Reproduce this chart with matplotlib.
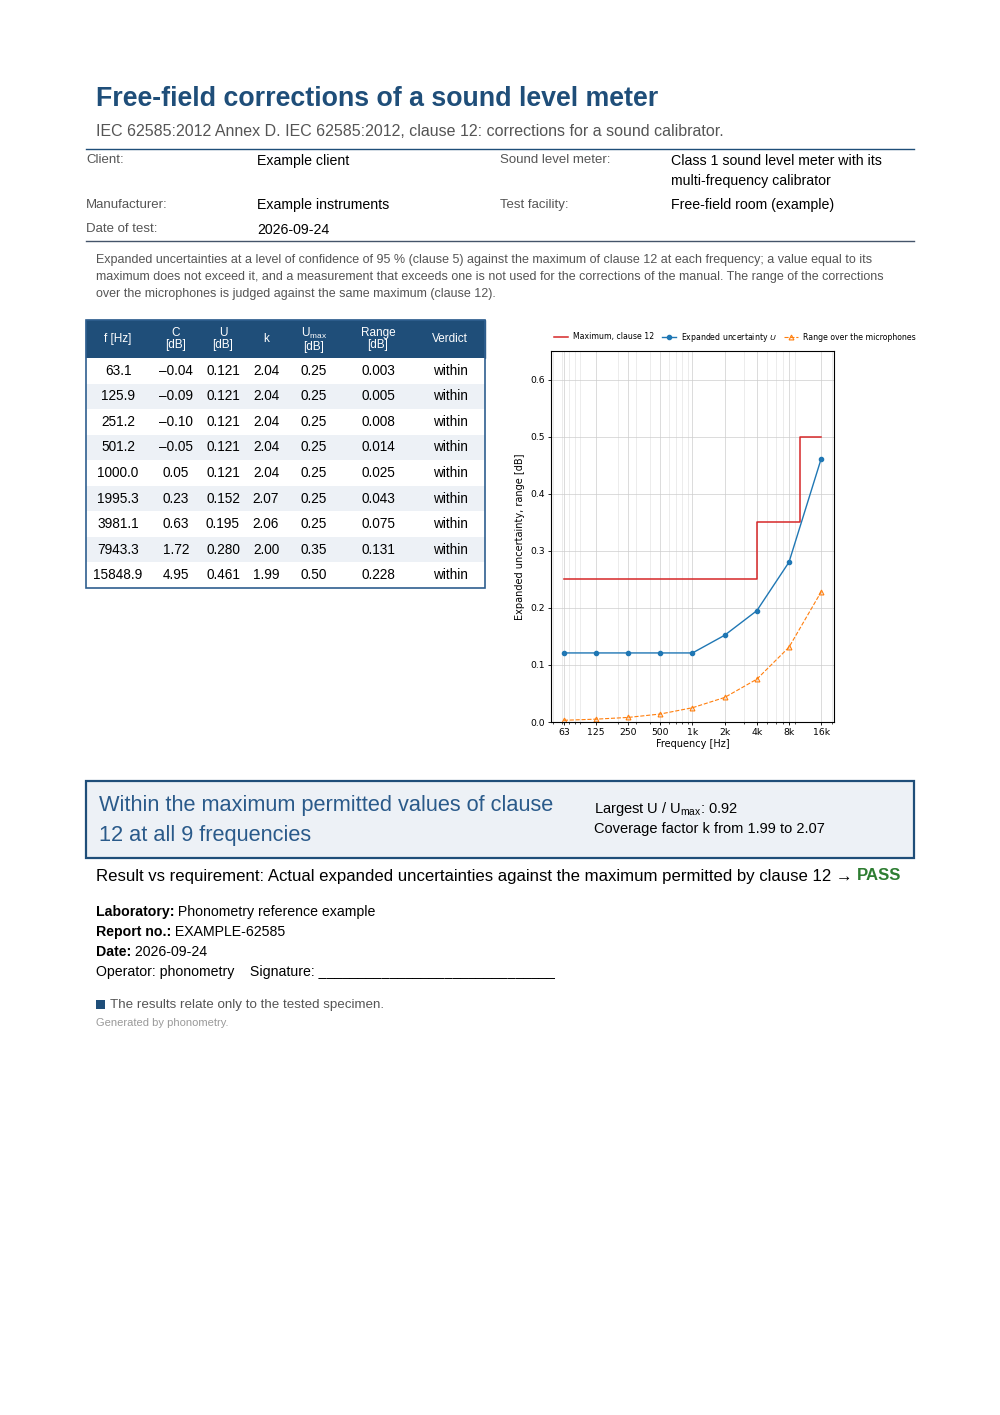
import matplotlib
matplotlib.use("Agg")
import matplotlib.pyplot as plt
from matplotlib.patches import Rectangle
import numpy as np

plt.rcParams["mathtext.fontset"] = "custom"
plt.rcParams["mathtext.rm"] = "Liberation Sans"
plt.rcParams["mathtext.it"] = "Liberation Sans:italic"
plt.rcParams["mathtext.bf"] = "Liberation Sans:bold"

# --- data ---------------------------------------------------------------
FREQ_HZ = [63.1, 125.9, 251.2, 501.2, 1000.0, 1995.3, 3981.1, 7943.3, 15848.9]
CORRECTION_DB = [-0.04, -0.09, -0.10, -0.05, 0.05, 0.23, 0.63, 1.72, 4.95]
U_DB = [0.121, 0.121, 0.121, 0.121, 0.121, 0.152, 0.195, 0.280, 0.461]
K_FACTOR = [2.04, 2.04, 2.04, 2.04, 2.04, 2.07, 2.06, 2.00, 1.99]
UMAX_DB = [0.25, 0.25, 0.25, 0.25, 0.25, 0.25, 0.25, 0.35, 0.50]
RANGE_DB = [0.003, 0.005, 0.008, 0.014, 0.025, 0.043, 0.075, 0.131, 0.228]
VERDICT = ["within"] * 9
TICK_LABELS = ["63", "125", "250", "500", "1k", "2k", "4k", "8k", "16k"]

LIMIT_EDGES_HZ = [63.1, 4000.0, 10000.0, 15848.9]
LIMIT_VALUES_DB = [0.25, 0.35, 0.50]

NAVY = "#1f4e79"
GREY = "#555555"
PAGE_FONT = "Liberation Sans"

W, H = 1000, 1415
fig = plt.figure(figsize=(W / 100, H / 100), dpi=100)
page = fig.add_axes([0, 0, 1, 1])
page.set_xlim(0, W)
page.set_ylim(H, 0)
page.axis("off")


def txt(x, y, s, size=10, color="black", weight="normal", ha="left", va="center", **kw):
    return page.text(x, y, s, fontsize=size, color=color, fontweight=weight,
                     ha=ha, va=va, family=PAGE_FONT, **kw)


# --- header -------------------------------------------------------------
txt(96, 99, "Free-field corrections of a sound level meter", size=19.3,
    color=NAVY, weight="bold")
txt(96, 131, "IEC 62585:2012 Annex D. IEC 62585:2012, clause 12: corrections "
    "for a sound calibrator.", size=11.5, color=GREY)
page.plot([86, 914], [149, 149], color=NAVY, lw=1.0)

txt(86, 160, "Client:", size=9.5, color=GREY)
txt(257, 161, "Example client", size=10.2)
txt(500, 160, "Sound level meter:", size=9.5, color=GREY)
txt(671, 161, "Class 1 sound level meter with its", size=10.2)
txt(671, 181, "multi-frequency calibrator", size=10.2)
txt(86, 205, "Manufacturer:", size=9.5, color=GREY)
txt(257, 205, "Example instruments", size=10.2)
txt(500, 205, "Test facility:", size=9.5, color=GREY)
txt(671, 205, "Free-field room (example)", size=10.2)
txt(86, 229, "Date of test:", size=9.5, color=GREY)
txt(257, 230, "2026-09-24", size=10.2)
page.plot([86, 914], [241, 241], color="#44546a", lw=1.0)

note = ("Expanded uncertainties at a level of confidence of 95 % (clause 5) against the "
        "maximum of clause 12 at each frequency; a value equal to its\n"
        "maximum does not exceed it, and a measurement that exceeds one is not used for "
        "the corrections of the manual. The range of the corrections\n"
        "over the microphones is judged against the same maximum (clause 12).")
txt(96, 277, note, size=9.0, color=GREY, linespacing=1.5)

# --- table --------------------------------------------------------------
tab_left, tab_right = 86, 485
head_top, head_bot = 320, 358
row_h = (588 - head_bot) / len(FREQ_HZ)
col_x = [118, 176, 223, 266, 314, 378, 450]
headers = ["f [Hz]", "C\n[dB]", "U\n[dB]", "k", "U$_{\\mathrm{max}}$\n[dB]",
           "Range\n[dB]", "Verdict"]

page.add_patch(Rectangle((tab_left, head_top), tab_right - tab_left,
                         head_bot - head_top, facecolor=NAVY, edgecolor=NAVY))
for x, h in zip(col_x, headers):
    txt(x, 339, h, size=8.5, color="white", ha="center", linespacing=1.0)


def fmt_signed(v):
    s = f"{abs(v):.2f}"
    return ("\u2013" + s) if v < 0 else s


for i in range(len(FREQ_HZ)):
    top = head_bot + i * row_h
    face = "#edf1f6" if i % 2 else "white"
    page.add_patch(Rectangle((tab_left, top), tab_right - tab_left, row_h,
                             facecolor=face, edgecolor="none"))
    cells = [f"{FREQ_HZ[i]:.1f}", fmt_signed(CORRECTION_DB[i]), f"{U_DB[i]:.3f}",
             f"{K_FACTOR[i]:.2f}", f"{UMAX_DB[i]:.2f}", f"{RANGE_DB[i]:.3f}", VERDICT[i]]
    for x, c in zip(col_x, cells):
        txt(x, top + row_h / 2, c, size=9.8, ha="center")

page.add_patch(Rectangle((tab_left, head_top), tab_right - tab_left, 588 - head_top,
                         facecolor="none", edgecolor="#2f5f8f", lw=1.2))

# --- chart --------------------------------------------------------------
ax = fig.add_axes([551 / W, 1 - 722 / H, (834 - 551) / W, (722 - 351) / H])
red, blue, orange = "#d62728", "#1f77b4", "#ff7f0e"

lim_x = np.repeat(LIMIT_EDGES_HZ, 2)[1:-1]
lim_y = np.repeat(LIMIT_VALUES_DB, 2)
ax.plot(lim_x, lim_y, color=red, lw=1.1, label="Maximum, clause 12")
ax.plot(FREQ_HZ, U_DB, color=blue, lw=1.0, marker="o", ms=3,
        label="Expanded uncertainty $U$")
ax.plot(FREQ_HZ, RANGE_DB, color=orange, lw=0.8, ls="--", marker="^", ms=3.5,
        mfc="none", mew=0.8, label="Range over the microphones")

ax.set_xscale("log")
ax.set_ylim(0, 0.65)
ax.set_xticks(FREQ_HZ)
ax.set_xticklabels(TICK_LABELS)
ax.set_yticks([0.0, 0.1, 0.2, 0.3, 0.4, 0.5, 0.6])
ax.tick_params(labelsize=6.7, length=2.5, width=0.6, pad=2)
ax.tick_params(which="minor", length=1.5, width=0.5)
ax.grid(which="major", color="#cccccc", lw=0.6, alpha=0.8)
ax.grid(which="minor", axis="x", color="#dddddd", lw=0.5, alpha=0.8)
ax.set_xlabel("Frequency [Hz]", fontsize=7, labelpad=1.5)
ax.set_ylabel("Expanded uncertainty, range [dB]", fontsize=7, labelpad=4)
for sp in ax.spines.values():
    sp.set_linewidth(0.8)

handles, labels = ax.get_legend_handles_labels()
fig.legend(handles, labels, loc="center", bbox_to_anchor=(735 / W, 1 - 337 / H),
           ncol=3, frameon=False, fontsize=5.6, handlelength=1.8,
           columnspacing=1.0, handletextpad=0.6)

# --- result box ---------------------------------------------------------
page.add_patch(Rectangle((86, 781), 914 - 86, 858 - 781, facecolor="#edf1f6",
                         edgecolor=NAVY, lw=1.6))
txt(99, 806, "Within the maximum permitted values of clause", size=15.7, color="#2a5a8a")
txt(99, 835, "12 at all 9 frequencies", size=15.7, color="#2a5a8a")
largest = max(u / m for u, m in zip(U_DB, UMAX_DB))
txt(594, 809, f"Largest U / U$_{{\\mathrm{{max}}}}$: {largest:.2f}", size=10.5)
txt(594, 829, f"Coverage factor k from {min(K_FACTOR):.2f} to {max(K_FACTOR):.2f}",
    size=10.5)

res = txt(96, 876, "Result vs requirement: Actual expanded uncertainties against the "
          "maximum permitted by clause 12 \u2192 ", size=12.1)
page.annotate("PASS", xycoords=res, xy=(1, 0.5), va="center", fontsize=12.1,
              color="#2e7d32", fontweight="bold", family=PAGE_FONT)

# --- signature block ----------------------------------------------------
lab_rows = [("Laboratory:", "Phonometry reference example"),
            ("Report no.:", "EXAMPLE-62585"),
            ("Date:", "2026-09-24")]
for j, (k, v) in enumerate(lab_rows):
    y = 912 + 20 * j
    t = page.text(96, y, k, fontsize=10.2, fontweight="bold", va="center",
                  family=PAGE_FONT)
    page.annotate(" " + v, xycoords=t, xy=(1, 0.5), va="center", fontsize=10.2,
                  family=PAGE_FONT)
txt(96, 972, "Operator: phonometry    Signature: ______________________________",
    size=10.2)

page.add_patch(Rectangle((96, 1000), 9, 9, facecolor=NAVY, edgecolor="none"))
txt(110, 1005, "The results relate only to the tested specimen.", size=9.6, color=GREY)
txt(96, 1023, "Generated by phonometry.", size=8, color="#999999")

fig.savefig("out.png", dpi=100)
